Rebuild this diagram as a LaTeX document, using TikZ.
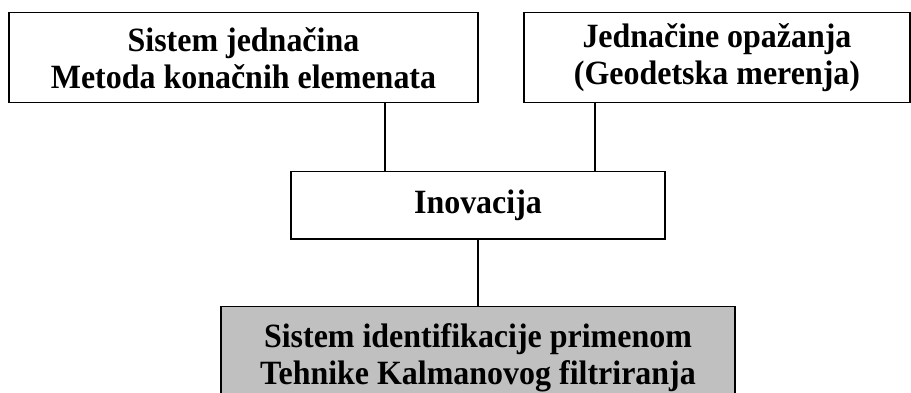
\documentclass[tikz,border=0pt]{standalone}
\usepackage{fontspec}
\setmainfont{Liberation Serif}[FakeStretch=0.94]
\begin{document}
\begin{tikzpicture}[x=1pt,y=1pt,
  box/.style={draw=black, line width=1.6pt, fill=white, align=center,
    font=\fontsize{34}{37}\selectfont\bfseries, inner sep=0pt},
  link/.style={draw=black, line width=1.5pt}]
  \useasboundingbox (0,0) rectangle (911,393);
  \clip (0,0) rectangle (911,393);
  % upper row
  \node[box, minimum width=469, minimum height=90] (sys) at (243.5,335.3)
    {Sistem jednačina\\Metoda konačnih elemenata};
  \node[box, minimum width=386, minimum height=90] (obs) at (717,335.3)
    {Jednačine opažanja\\(Geodetska merenja)};
  % innovation
  \node[box, minimum width=374, minimum height=67.3] (inv) at (478,187.7)
    {Inovacija};
  % filter box, running past the lower edge
  \node[box, fill={rgb,255:red,192;green,192;blue,192}, minimum width=514,
    minimum height=102.6] (kal) at (478,35)
    {Sistem identifikacije primenom\\Tehnike Kalmanovog filtriranja};
  % connectors
  \coordinate (xl) at (385,0);
  \coordinate (xr) at (595,0);
  \draw[link] (sys.south -| xl) -- (inv.north -| xl);
  \draw[link] (obs.south -| xr) -- (inv.north -| xr);
  \draw[link] (inv.south) -- (kal.north);
\end{tikzpicture}
\end{document}
